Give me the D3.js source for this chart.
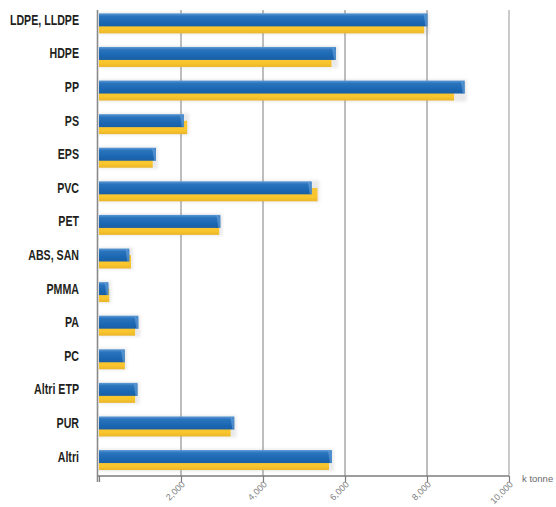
<!DOCTYPE html>
<html>
<head>
<meta charset="utf-8">
<script src="https://cdn.jsdelivr.net/npm/d3@7"></script>
<style>
  html, body { margin: 0; padding: 0; background: #ffffff; }
  svg { display: block; }
</style>
</head>
<body>
<svg id="chart" width="556" height="507"></svg>
<script>
// Polymer demand by resin type, two years side by side (k tonnes)
const categories = ["LDPE, LLDPE", "HDPE", "PP", "PS", "EPS", "PVC", "PET",
  "ABS, SAN", "PMMA", "PA", "PC", "Altri ETP", "PUR", "Altri"];
const seriesBlue = [8010, 5780, 8920, 2070, 1390, 5190, 2960, 740, 230, 960, 630, 940, 3300, 5680];
const seriesYellow = [7930, 5670, 8660, 2150, 1310, 5330, 2930, 780, 250, 880, 630, 880, 3210, 5610];
const tickValues = [0, 2000, 4000, 6000, 8000, 10000];
const tickLabels = ["", "2,000", "4,000", "6,000", "8,000", "10,000"];
const unitLabel = "k tonne";

const svg = d3.select("#chart");
const x0 = 99, x1 = 509, yTop = 10, yAxis = 476;

const x = d3.scaleLinear().domain([0, 10000]).range([x0, x1]);
const y = d3.scaleBand().domain(categories).range([yTop, 473.4])
  .paddingInner(0.405).paddingOuter(0.1);
const bw = y.bandwidth();
const blueH = bw * 0.65;
const yellowOff = bw * 0.33;

const defs = svg.append("defs");
const gb = defs.append("linearGradient").attr("id", "gBlue").attr("x1", 0).attr("y1", 0).attr("x2", 0).attr("y2", 1);
gb.append("stop").attr("offset", "0%").attr("stop-color", "#5d9ad6");
gb.append("stop").attr("offset", "22%").attr("stop-color", "#2a74bd");
gb.append("stop").attr("offset", "70%").attr("stop-color", "#1b66b1");
gb.append("stop").attr("offset", "100%").attr("stop-color", "#1a5fa5");
const gy = defs.append("linearGradient").attr("id", "gYellow").attr("x1", 0).attr("y1", 0).attr("x2", 0).attr("y2", 1);
gy.append("stop").attr("offset", "0%").attr("stop-color", "#f6c43a");
gy.append("stop").attr("offset", "70%").attr("stop-color", "#f9c62c");
gy.append("stop").attr("offset", "100%").attr("stop-color", "#eab52a");
const blur = defs.append("filter").attr("id", "halo").attr("x", "-5%").attr("y", "-40%").attr("width", "110%").attr("height", "180%");
blur.append("feGaussianBlur").attr("stdDeviation", 1.6);

// vertical grid lines
svg.append("g").selectAll("line")
  .data(tickValues.filter(v => v > 0))
  .join("line")
  .attr("x1", d => x(d)).attr("x2", d => x(d))
  .attr("y1", yTop).attr("y2", yAxis)
  .attr("stroke", d => d === 10000 ? "#b4b4b4" : "#7c7c7c")
  .attr("stroke-width", d => d === 10000 ? 1.4 : 1);

// soft halo behind bars
const halo = svg.append("g").attr("filter", "url(#halo)").attr("opacity", 0.18);
halo.selectAll("rect")
  .data(categories)
  .join("rect")
  .attr("x", x(0))
  .attr("y", d => y(d) - 1)
  .attr("width", (d, i) => x(Math.max(seriesBlue[i], seriesYellow[i])) - x(0) + 2)
  .attr("height", bw + 2)
  .attr("fill", "#888");

const bars = svg.append("g");
// yellow series, sitting lower and behind
bars.selectAll("rect.yellow")
  .data(categories)
  .join("rect")
  .attr("class", "yellow")
  .attr("x", x(0))
  .attr("y", d => y(d) + yellowOff)
  .attr("width", (d, i) => x(seriesYellow[i]) - x(0))
  .attr("height", bw - yellowOff)
  .attr("fill", "url(#gYellow)");

// blue series on top
bars.selectAll("rect.blue")
  .data(categories)
  .join("rect")
  .attr("class", "blue")
  .attr("x", x(0))
  .attr("y", d => y(d))
  .attr("width", (d, i) => x(seriesBlue[i]) - x(0))
  .attr("height", blueH)
  .attr("fill", "url(#gBlue)");

// bevelled end cap on the blue bars
bars.selectAll("path.cap")
  .data(categories)
  .join("path")
  .attr("class", "cap")
  .attr("d", (d, i) => {
    const xe = x(seriesBlue[i]), yt = y(d);
    return `M${xe - 4},${yt} L${xe},${yt + 3} L${xe},${yt + blueH} L${xe - 2},${yt + blueH} Z`;
  })
  .attr("fill", "#6fa6dc")
  .attr("opacity", 0.55);

// left axis line
svg.append("line")
  .attr("x1", x0 - 1.5).attr("x2", x0 - 1.5)
  .attr("y1", yTop).attr("y2", yAxis + 6)
  .attr("stroke", "#8a8a8a").attr("stroke-width", 1.6);

// bottom axis
const xAxis = d3.axisBottom(x)
  .tickValues(tickValues)
  .tickSize(6)
  .tickFormat((d, i) => tickLabels[i]);
const ax = svg.append("g").attr("transform", `translate(0,${yAxis})`).call(xAxis);
ax.select(".domain").attr("stroke", "#7c7c7c").attr("stroke-width", 1.4)
  .attr("d", `M${x0 - 1.5},0H${x1}`);
ax.selectAll(".tick line").attr("stroke", "#7c7c7c").attr("stroke-width", 1.2);
ax.selectAll(".tick text")
  .attr("fill", "#808080")
  .attr("font-family", "'Liberation Sans', sans-serif")
  .attr("font-size", 9)
  .attr("text-anchor", "end")
  .attr("dy", null)
  .attr("y", 0)
  .attr("transform", "translate(4,9) rotate(-45)");

svg.append("text")
  .attr("x", 522).attr("y", 482)
  .attr("fill", "#6a6a6a")
  .attr("font-family", "'Liberation Sans', sans-serif")
  .attr("font-size", 9.5)
  .text(unitLabel);

// category labels, horizontally condensed
svg.append("g").selectAll("text")
  .data(categories)
  .join("text")
  .attr("transform", d => `translate(79,${y(d) + blueH / 2}) scale(0.76,1)`)
  .attr("dy", "0.36em")
  .attr("text-anchor", "end")
  .attr("font-family", "'Liberation Sans', Arial, sans-serif")
  .attr("font-weight", "bold")
  .attr("font-size", 14)
  .attr("fill", "#231f20")
  .text(d => d);
</script>
</body>
</html>
